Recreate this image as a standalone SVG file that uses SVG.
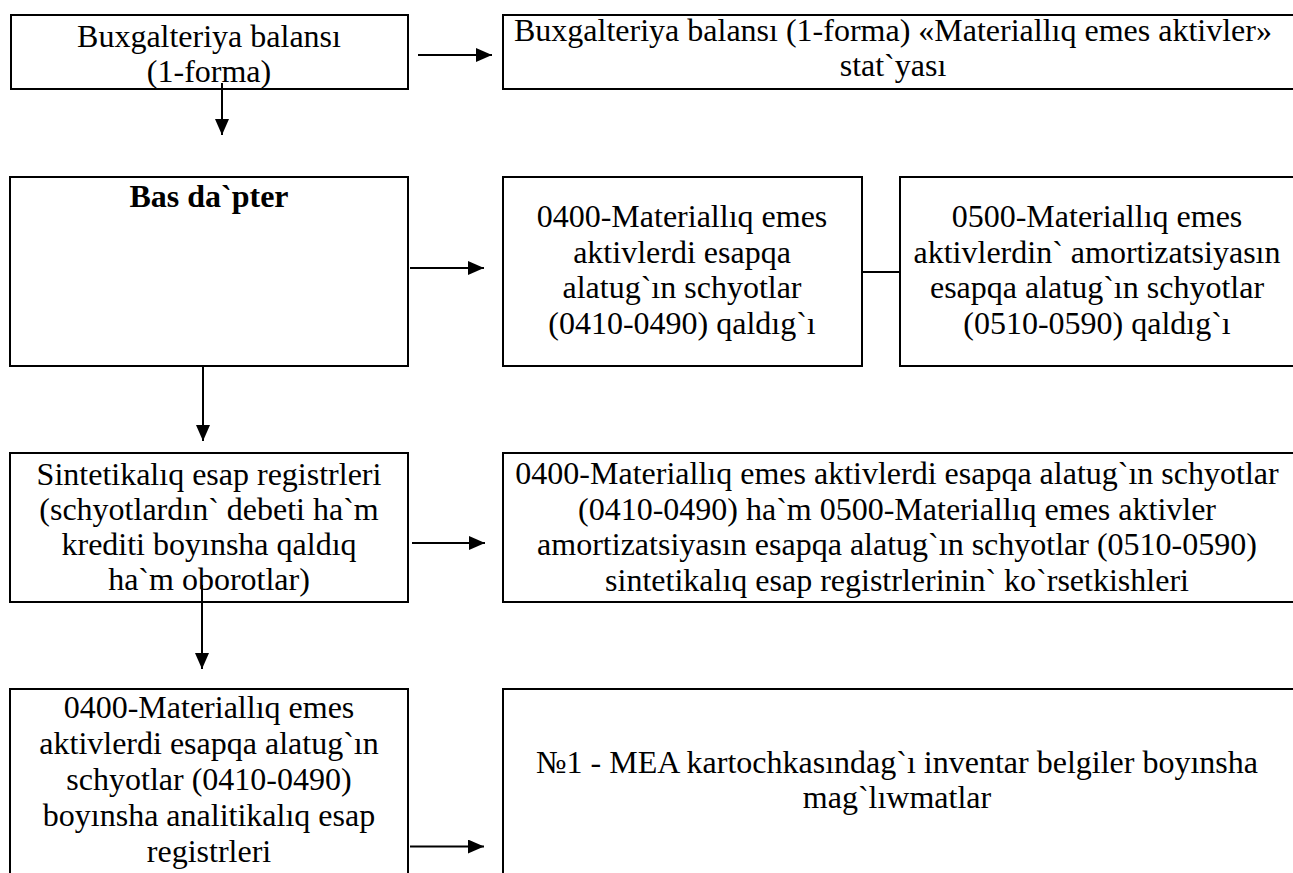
<svg xmlns="http://www.w3.org/2000/svg" width="1293" height="873" viewBox="0 0 1293 873">
<style>
.box{fill:#fff;stroke:#000;stroke-width:2}
.t{font-family:"Liberation Serif","Times New Roman",serif;font-size:32px;fill:#000;text-anchor:middle}
.b{font-weight:bold}
.c{stroke:#000;stroke-width:2;fill:none}
</style>
<defs>
<marker id="ah" markerUnits="userSpaceOnUse" markerWidth="16" markerHeight="14" refX="16" refY="7" orient="auto">
<path d="M0,0 L16,7 L0,14 z" fill="#000"/>
</marker>
</defs>
<rect width="1293" height="873" fill="#fff"/>
<g id="nodeA">
<rect class="box" x="11" y="15" width="397" height="74"/>
<text class="t" x="209" y="47">Buxgalteriya balansı</text>
<text class="t" x="209" y="82">(1-forma)</text>
</g>
<g id="nodeB">
<rect class="box" x="503" y="15" width="800" height="74"/>
<text class="t" x="893" y="41">Buxgalteriya balansı (1-forma) «Materiallıq emes aktivler»</text>
<text class="t" x="893" y="76">stat`yası</text>
</g>
<g id="nodeC">
<rect class="box" x="10" y="177" width="398" height="189"/>
<text class="t b" x="209" y="207">Bas da`pter</text>
</g>
<g id="nodeD">
<rect class="box" x="503" y="177" width="359" height="189"/>
<text class="t" x="682" y="227">0400-Materiallıq emes</text>
<text class="t" x="682" y="262.5">aktivlerdi esapqa</text>
<text class="t" x="682" y="298">alatug`ın schyotlar</text>
<text class="t" x="682" y="333.5">(0410-0490) qaldıg`ı</text>
</g>
<g id="nodeE">
<rect class="box" x="900" y="177" width="400" height="189"/>
<text class="t" x="1097" y="227">0500-Materiallıq emes</text>
<text class="t" x="1097" y="262.5">aktivlerdin` amortizatsiyasın</text>
<text class="t" x="1097" y="298">esapqa alatug`ın schyotlar</text>
<text class="t" x="1097" y="333.5">(0510-0590) qaldıg`ı</text>
</g>
<g id="nodeF">
<rect class="box" x="10" y="453" width="398" height="149"/>
<text class="t" x="209" y="485">Sintetikalıq esap registrleri</text>
<text class="t" x="209" y="520">(schyotlardın` debeti ha`m</text>
<text class="t" x="209" y="555">krediti boyınsha qaldıq</text>
<text class="t" x="209" y="590">ha`m oborotlar)</text>
</g>
<g id="nodeG">
<rect class="box" x="503" y="453" width="800" height="149"/>
<text class="t" x="897" y="484">0400-Materiallıq emes aktivlerdi esapqa alatug`ın schyotlar</text>
<text class="t" x="897" y="520">(0410-0490) ha`m 0500-Materiallıq emes aktivler</text>
<text class="t" x="897" y="555">amortizatsiyasın esapqa alatug`ın schyotlar (0510-0590)</text>
<text class="t" x="897" y="591">sintetikalıq esap registrlerinin` ko`rsetkishleri</text>
</g>
<g id="nodeH">
<rect class="box" x="10" y="689" width="398" height="200"/>
<text class="t" x="209" y="718">0400-Materiallıq emes</text>
<text class="t" x="209" y="754">aktivlerdi esapqa alatug`ın</text>
<text class="t" x="209" y="790">schyotlar (0410-0490)</text>
<text class="t" x="209" y="826">boyınsha analitikalıq esap</text>
<text class="t" x="209" y="862">registrleri</text>
</g>
<g id="nodeI">
<rect class="box" x="503" y="689" width="800" height="200"/>
<text class="t" x="897" y="773">№1 - MEA kartochkasındag`ı inventar belgiler boyınsha</text>
<text class="t" x="897" y="808">mag`lıwmatlar</text>
</g>
<g id="connectors">
<line class="c" x1="418" y1="55" x2="492" y2="55" marker-end="url(#ah)"/>
<line class="c" x1="222" y1="83" x2="222" y2="135" marker-end="url(#ah)"/>
<line class="c" x1="410" y1="268" x2="484" y2="268" marker-end="url(#ah)"/>
<line class="c" x1="862" y1="272" x2="900" y2="272"/>
<line class="c" x1="203" y1="366" x2="203" y2="441" marker-end="url(#ah)"/>
<line class="c" x1="412" y1="543" x2="485" y2="543" marker-end="url(#ah)"/>
<line class="c" x1="202" y1="585" x2="202" y2="669" marker-end="url(#ah)"/>
<line class="c" x1="410" y1="846.5" x2="484" y2="846.5" marker-end="url(#ah)"/>
</g>
</svg>
